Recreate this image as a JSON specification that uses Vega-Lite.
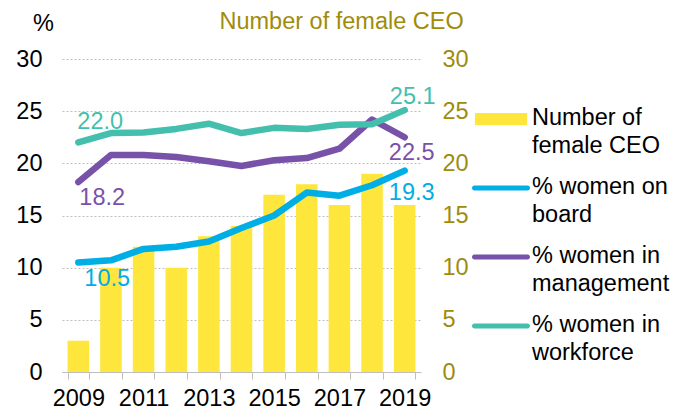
{
  "$schema": "https://vega.github.io/schema/vega-lite/v6.json",
  "width": 359,
  "height": 313,
  "autosize": "none",
  "padding": {"left": 62, "top": 59, "right": 265, "bottom": 42},
  "background": "white",
  "config": {
    "font": "Liberation Sans",
    "view": {"stroke": null},
    "axis": {"labelFont": "Liberation Sans", "titleFont": "Liberation Sans", "labelFontSize": 23.5, "titleFontSize": 23.5, "titleFontWeight": "normal"}
  },
  "datasets": {
    "ceo": [
      {"year": 2009, "series": "Number of female CEO", "value": 3},
      {"year": 2010, "series": "Number of female CEO", "value": 10},
      {"year": 2011, "series": "Number of female CEO", "value": 12},
      {"year": 2012, "series": "Number of female CEO", "value": 10},
      {"year": 2013, "series": "Number of female CEO", "value": 13},
      {"year": 2014, "series": "Number of female CEO", "value": 14},
      {"year": 2015, "series": "Number of female CEO", "value": 17},
      {"year": 2016, "series": "Number of female CEO", "value": 18},
      {"year": 2017, "series": "Number of female CEO", "value": 16},
      {"year": 2018, "series": "Number of female CEO", "value": 19},
      {"year": 2019, "series": "Number of female CEO", "value": 16}
    ],
    "shares": [
      {"year": 2009, "series": "% women on board", "value": 10.5},
      {"year": 2010, "series": "% women on board", "value": 10.7},
      {"year": 2011, "series": "% women on board", "value": 11.8},
      {"year": 2012, "series": "% women on board", "value": 12.0},
      {"year": 2013, "series": "% women on board", "value": 12.5},
      {"year": 2014, "series": "% women on board", "value": 13.8},
      {"year": 2015, "series": "% women on board", "value": 15.0},
      {"year": 2016, "series": "% women on board", "value": 17.2},
      {"year": 2017, "series": "% women on board", "value": 16.9},
      {"year": 2018, "series": "% women on board", "value": 17.9},
      {"year": 2019, "series": "% women on board", "value": 19.3},
      {"year": 2009, "series": "% women in management", "value": 18.2},
      {"year": 2010, "series": "% women in management", "value": 20.8},
      {"year": 2011, "series": "% women in management", "value": 20.8},
      {"year": 2012, "series": "% women in management", "value": 20.6},
      {"year": 2013, "series": "% women in management", "value": 20.2},
      {"year": 2014, "series": "% women in management", "value": 19.75},
      {"year": 2015, "series": "% women in management", "value": 20.3},
      {"year": 2016, "series": "% women in management", "value": 20.5},
      {"year": 2017, "series": "% women in management", "value": 21.4},
      {"year": 2018, "series": "% women in management", "value": 24.2},
      {"year": 2019, "series": "% women in management", "value": 22.5},
      {"year": 2009, "series": "% women in workforce", "value": 22.0},
      {"year": 2010, "series": "% women in workforce", "value": 22.9},
      {"year": 2011, "series": "% women in workforce", "value": 22.95},
      {"year": 2012, "series": "% women in workforce", "value": 23.3},
      {"year": 2013, "series": "% women in workforce", "value": 23.8},
      {"year": 2014, "series": "% women in workforce", "value": 22.9},
      {"year": 2015, "series": "% women in workforce", "value": 23.4},
      {"year": 2016, "series": "% women in workforce", "value": 23.3},
      {"year": 2017, "series": "% women in workforce", "value": 23.7},
      {"year": 2018, "series": "% women in workforce", "value": 23.75},
      {"year": 2019, "series": "% women in workforce", "value": 25.1}
    ]
  },
  "encoding": {
    "x": {
      "field": "year",
      "type": "ordinal",
      "scale": {"paddingInner": 0.34, "paddingOuter": 0.17},
      "axis": {
        "title": null,
        "labelAngle": 0,
        "labelExpr": "datum.value % 2 == 1 ? datum.label : ''",
        "tickBand": "extent",
        "domainColor": "#BFBFBF",
        "tickColor": "#BFBFBF",
        "tickSize": 7,
        "labelPadding": 7,
        "labelColor": "#000000",
        "labelBaseline": "top",
        "grid": false
      }
    },
    "color": {
      "field": "series",
      "type": "nominal",
      "scale": {
        "domain": ["Number of female CEO", "% women on board", "% women in management", "% women in workforce"],
        "range": ["#FFE63C", "#00AEE6", "#7851A9", "#44BFAD"]
      },
      "legend": {
        "orient": "none",
        "legendX": 410,
        "legendY": 31,
        "title": null,
        "padding": 0,
        "rowPadding": 2,
        "symbolSize": 3364,
        "symbolStrokeWidth": 0,
        "labelOffset": 2,
        "labelFont": "Liberation Sans",
        "labelFontSize": 23.5,
        "labelColor": "#000000",
        "labelLimit": 300,
        "labelBaseline": "middle",
        "labelExpr": "datum.label == 'Number of female CEO' ? ['Number of', 'female CEO'] : datum.label == '% women on board' ? ['% women on', 'board'] : datum.label == '% women in management' ? ['% women in', 'management'] : ['% women in', 'workforce']",
        "encode": {
          "symbols": {
            "update": {
              "shape": {"signal": "datum.value == 'Number of female CEO' ? 'M-0.9,-0.207H0.9V0.207H-0.9Z' : 'M-0.914,-0.086H0.914A0.086,0.086 0 0 1 0.914,0.086H-0.914A0.086,0.086 0 0 1 -0.914,-0.086Z'"},
              "size": {"value": 3364},
              "fill": {"signal": "scale('color', datum.value)"},
              "strokeWidth": {"value": 0},
              "opacity": {"value": 1}
            }
          },
          "labels": {
            "update": {
              "lineHeight": {"value": 27.5},
              "dy": {"value": -1}
            }
          }
        }
      }
    }
  },
  "layer": [
    {
      "data": {"name": "ceo"},
      "mark": {"type": "bar", "opacity": 1},
      "encoding": {
        "y": {
          "field": "value",
          "type": "quantitative",
          "scale": {"domain": [0, 30], "nice": false},
          "axis": {
            "orient": "right",
            "values": [0, 5, 10, 15, 20, 25, 30],
            "grid": false,
            "domain": false,
            "ticks": false,
            "labelPadding": 21,
            "labelColor": "#A08C0A",
            "labelAlign": "left",
            "title": "Number of female CEO",
            "titleColor": "#A08C0A",
            "titleAngle": 0,
            "titleAlign": "left",
            "titleBaseline": "middle",
            "titleX": -202,
            "titleY": -38
          }
        }
      }
    },
    {
      "data": {"name": "shares"},
      "encoding": {
        "y": {
          "field": "value",
          "type": "quantitative",
          "scale": {"domain": [0, 30], "nice": false}
        }
      },
      "layer": [
        {
          "mark": {"type": "line", "strokeWidth": 6.5, "strokeCap": "round", "strokeJoin": "round"},
          "encoding": {
            "y": {
              "field": "value",
              "type": "quantitative",
              "axis": {
                "orient": "left",
                "values": [0, 5, 10, 15, 20, 25, 30],
                "grid": true,
                "gridColor": "#BFBFBF",
                "gridDash": [2, 2],
                "gridWidth": 1,
                "domain": false,
                "ticks": false,
                "labelPadding": 20,
                "labelColor": "#000000",
                "title": "%",
                "titleColor": "#000000",
                "titleAngle": 0,
                "titleAlign": "center",
                "titleBaseline": "middle",
                "titleX": -19,
                "titleY": -36
              }
            }
          }
        },
        {
          "transform": [{"filter": "datum.series == '% women in workforce' && datum.year == 2009"}],
          "mark": {"type": "text", "fontSize": 23.5, "align": "left", "baseline": "middle", "dx": -1, "dy": -20},
          "encoding": {"text": {"field": "value", "type": "quantitative", "format": ".1f"}}
        },
        {
          "transform": [{"filter": "datum.series == '% women in workforce' && datum.year == 2019"}],
          "mark": {"type": "text", "fontSize": 23.5, "align": "center", "baseline": "middle", "dx": 8, "dy": -13},
          "encoding": {"text": {"field": "value", "type": "quantitative", "format": ".1f"}}
        },
        {
          "transform": [{"filter": "datum.series == '% women in management' && datum.year == 2009"}],
          "mark": {"type": "text", "fontSize": 23.5, "align": "left", "baseline": "middle", "dx": 1, "dy": 16},
          "encoding": {"text": {"field": "value", "type": "quantitative", "format": ".1f"}}
        },
        {
          "transform": [{"filter": "datum.series == '% women in management' && datum.year == 2019"}],
          "mark": {"type": "text", "fontSize": 23.5, "align": "center", "baseline": "middle", "dx": 7, "dy": 16},
          "encoding": {"text": {"field": "value", "type": "quantitative", "format": ".1f"}}
        },
        {
          "transform": [{"filter": "datum.series == '% women on board' && datum.year == 2009"}],
          "mark": {"type": "text", "fontSize": 23.5, "align": "left", "baseline": "middle", "dx": 6, "dy": 17},
          "encoding": {"text": {"field": "value", "type": "quantitative", "format": ".1f"}}
        },
        {
          "transform": [{"filter": "datum.series == '% women on board' && datum.year == 2019"}],
          "mark": {"type": "text", "fontSize": 23.5, "align": "center", "baseline": "middle", "dx": 7, "dy": 22},
          "encoding": {"text": {"field": "value", "type": "quantitative", "format": ".1f"}}
        }
      ]
    }
  ],
  "resolve": {"scale": {"y": "independent"}, "axis": {"y": "independent"}}
}
